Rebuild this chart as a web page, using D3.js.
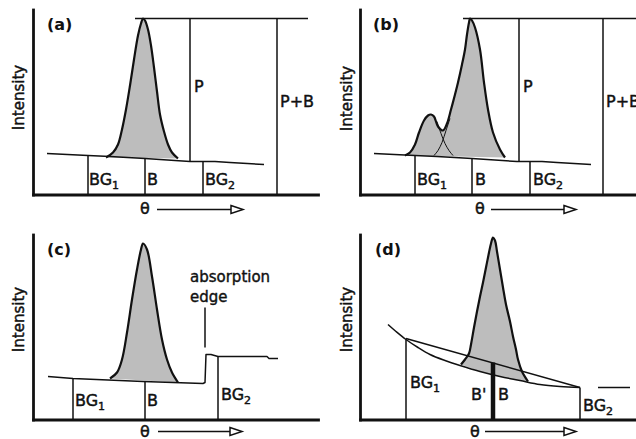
<!DOCTYPE html>
<html>
<head>
<meta charset="utf-8">
<script src="https://d3js.org/d3.v7.min.js"></script>
<style>
  body { margin: 0; background: #fff; }
  svg { display: block; font-family: "DejaVu Sans", sans-serif; }
  .lbl { font-size: 16px; fill: #111; stroke: #111; stroke-width: 0.45px; }
  .note { font-size: 15px; fill: #111; stroke: #111; stroke-width: 0.4px; }
  .sub { font-size: 11px; }
  .tag { font-size: 16px; font-weight: bold; fill: #111; }
  .ylab { font-size: 15px; fill: #111; stroke: #111; stroke-width: 0.45px; }
</style>
</head>
<body>
<svg id="chart" width="636" height="439"></svg>
<script>
// values in local units: [theta, intensity] measured from each panel's origin

// (a) single peak on a flat background
var baselineA = [[14,41],[55,39],[77,38],[112,36],[157,33],[182,33],[197,32],[231,30]];
var peakA = [[73,37],[80,42],[85,50],[89,65],[93,85],[97,109],[101,135],[105,159],[108,171],[110,176],
             [112,174],[115,165],[118,149],[121,127],[124,103],[127,80],[131,63],[135,50],[139,42],[145,36]];
var topA = [[102,176],[275,176]];
var vlinesA = [[55,39,0],[112,36,0],[170,33,0],[157,33,176],[244,0,176]];

// (b) overlapping small peak
var baselineB = [[14,41],[55,39],[77,38],[112,36],[157,33],[182,33],[197,32],[231,30]];
var envelopeB = [[45,39],[50,42],[55,50],[59,62],[64,74],[68,79],[71,80],[74,78],[78,68],[83,64],[87,71],
                 [91,85],[95,100],[98,112],[102,130],[105,145],[107,160],[109,172],[110,176],[112,174],
                 [115,167],[120,145],[124,112],[128,85],[133,62],[140,45],[145,37]];
var smallTailB = [[77,73],[81,61],[85,51],[89,44],[93,39]];
var mainTailB = [[90,76],[86,64],[82,52],[78,44],[74,39]];
var topB = [[103,176],[290,176]];
var vlinesB = [[55,39,0],[112,36,0],[170,33,0],[159,33,176],[243,0,176]];

// (c) absorption edge in the background
var baselineC = [[15,43],[40,41],[110,38],[170,36],[172,37],[173,65],[178,65],[185,63],[234,63],[236,61],[245,61]];
var peakC = [[77,41],[84,47],[89,60],[94,87],[99,120],[104,150],[108,170],[110,176],[114,170],[119,143],
             [124,110],[129,80],[134,60],[139,47],[145,37]];
var vlinesC = [[40,41,0],[112,38,0],[185,63,0],[172,72,112]];

// (d) curved background
var curveD = [[28,95],[36,88],[46,80],[58,72],[70,65],[85,59],[100,54],[120,48],[140,43],[160,39],[180,35],[200,33],[220,32]];
var chordD = [[46,81],[220,32]];
var tailD = [[238,32],[270,32]];
var peakD = [[101,55],[105,60],[109,66],[111,75],[114,92],[117,108],[120,123],[123,137],[126,152],[129,167],[131,176],[133,182],
             [135,179],[137,168],[140,150],[143,132],[146,115],[150,98],[153,83],[156,70],[158,60],[162,48],[168,38]];
var vlinesD = [[46,80,0],[220,32,0]];
var thickD = [133,57,0];

var svg = d3.select("#chart");
var ink = "#111";
var gray = "#bdbdbd";

function makePanel(x0, y0, xMax) {
  var x = d3.scaleLinear().domain([0, xMax]).range([x0, x0 + xMax]);
  var y = d3.scaleLinear().domain([0, 185]).range([y0, y0 - 185]);
  var g = svg.append("g");
  var line = d3.line().x(d => x(d[0])).y(d => y(d[1]));
  return { x: x, y: y, g: g, line: line };
}

function axes(p, ylabelAt) {
  p.g.append("g")
    .attr("transform", `translate(0,${p.y(0)})`)
    .call(d3.axisBottom(p.x).tickValues([]).tickSizeOuter(0));
  p.g.append("g")
    .attr("transform", `translate(${p.x(0)},0)`)
    .call(d3.axisLeft(p.y).tickValues([]).tickSizeOuter(0));
  p.g.selectAll(".domain")
    .attr("stroke", ink)
    .attr("stroke-width", 2.8)
    .attr("stroke-linecap", "square");
  p.g.append("text")
    .attr("class", "ylab")
    .attr("text-anchor", "middle")
    .attr("transform", `translate(${p.x(ylabelAt[0])},${p.y(ylabelAt[1])}) rotate(-90)`)
    .attr("dy", "0.35em")
    .text("Intensity");
}

function vlines(p, data, w) {
  p.g.selectAll(null).data(data).enter().append("line")
    .attr("x1", d => p.x(d[0])).attr("x2", d => p.x(d[0]))
    .attr("y1", d => p.y(d[1])).attr("y2", d => p.y(d[2]))
    .attr("stroke", ink).attr("stroke-width", w || 1.5);
}

function path(p, data, w, curve, fill) {
  p.g.append("path")
    .attr("d", p.line.curve(curve || d3.curveLinear)(data) + (fill ? "Z" : ""))
    .attr("fill", fill || "none")
    .attr("stroke", fill ? "none" : ink)
    .attr("stroke-width", w || 1.5)
    .attr("stroke-linejoin", "round");
  p.line.curve(d3.curveLinear);
}

function label(p, txt, sub, at, cls) {
  var t = p.g.append("text")
    .attr("class", cls || "lbl")
    .attr("x", p.x(at[0])).attr("y", p.y(at[1]))
    .text(txt);
  if (sub) t.append("tspan").attr("class", "sub").attr("dy", 4).text(sub);
}

function thetaArrow(p, tx, ty, a0, a1, ay) {
  p.g.append("text").attr("class", "lbl")
    .attr("text-anchor", "middle")
    .attr("x", p.x(tx)).attr("y", p.y(ty)).text("θ");
  var xa = p.x(a0), xb = p.x(a1), ya = p.y(ay);
  p.g.append("line").attr("x1", xa).attr("x2", xb - 11).attr("y1", ya).attr("y2", ya)
    .attr("stroke", ink).attr("stroke-width", 1.5);
  p.g.append("path")
    .attr("d", `M${xb - 12},${ya - 4}L${xb},${ya}L${xb - 12},${ya + 4}Z`)
    .attr("fill", "#fff").attr("stroke", ink).attr("stroke-width", 1.5);
}

var cr = d3.curveCatmullRom.alpha(0.5);

// ---- (a)
var pa = makePanel(33, 194.5, 285);
path(pa, peakA, 0, cr, gray);
path(pa, baselineA, 1.5);
path(pa, peakA, 2.2, cr);
path(pa, topA, 1.5);
vlines(pa, vlinesA);
axes(pa, [-14, 97]);
label(pa, "(a)", null, [14, 165], "tag");
label(pa, "P", null, [161, 103]);
label(pa, "P+B", null, [247, 88]);
label(pa, "BG", "1", [56, 10]);
label(pa, "B", null, [114, 10]);
label(pa, "BG", "2", [172, 10]);
thetaArrow(pa, 112, -19, 124, 210, -15);

// ---- (b)
var pb = makePanel(360, 194.5, 276);
path(pb, envelopeB, 0, cr, gray);
path(pb, baselineB, 1.5);
path(pb, smallTailB, 1, cr);
path(pb, mainTailB, 1, cr);
path(pb, envelopeB, 2.2, cr);
path(pb, topB, 1.5);
vlines(pb, vlinesB);
axes(pb, [-13, 96]);
label(pb, "(b)", null, [13, 165], "tag");
label(pb, "P", null, [163, 103]);
label(pb, "P+B", null, [246, 88]);
label(pb, "BG", "1", [57, 10]);
label(pb, "B", null, [115, 10]);
label(pb, "BG", "2", [173, 10]);
thetaArrow(pb, 120, -19, 131, 216, -15);

// ---- (c)
var pc = makePanel(33, 419.5, 285);
path(pc, peakC, 0, cr, gray);
path(pc, baselineC, 1.5);
path(pc, peakC, 2.2, cr);
vlines(pc, vlinesC);
axes(pc, [-14, 100]);
label(pc, "(c)", null, [14, 165], "tag");
label(pc, "absorption", null, [157, 138], "note");
label(pc, "edge", null, [157, 118], "note");
label(pc, "BG", "1", [42, 14]);
label(pc, "B", null, [114, 14]);
label(pc, "BG", "2", [188, 20]);
thetaArrow(pc, 112, -17, 125, 209, -12);

// ---- (d)
var pd = makePanel(360, 419.5, 276);
var under = curveD.filter(d => d[0] > 101 && d[0] < 168).reverse();
path(pd, peakD.concat(under), 0, d3.curveLinear, gray);
path(pd, curveD, 1.5, cr);
path(pd, chordD, 1.5);
path(pd, tailD, 1.5);
path(pd, peakD, 2.2, cr);
vlines(pd, vlinesD);
vlines(pd, [thickD], 4.5);
axes(pd, [-13, 100]);
label(pd, "(d)", null, [15, 165], "tag");
label(pd, "BG", "1", [50, 32]);
label(pd, "B'", null, [111, 20]);
label(pd, "B", null, [138, 20]);
label(pd, "BG", "2", [223, 9]);
thetaArrow(pd, 115, -17, 125, 216, -12);
</script>
</body>
</html>
